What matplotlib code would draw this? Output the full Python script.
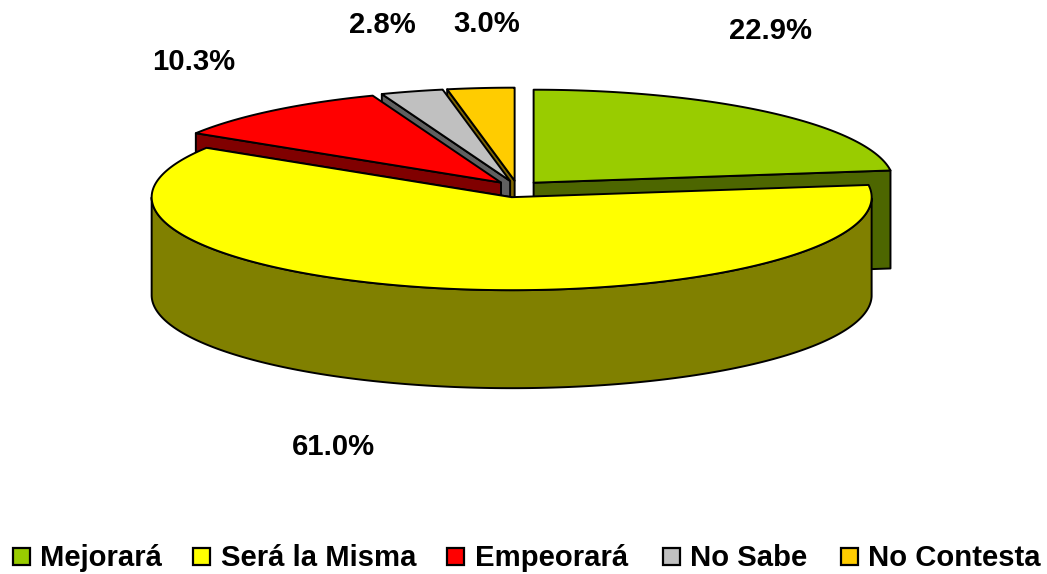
import numpy as np
import matplotlib
matplotlib.use("Agg")
import matplotlib.pyplot as plt
from matplotlib.patches import Polygon

categories = ["Mejorará", "Será la Misma", "Empeorará", "No Sabe", "No Contesta"]
values = [22.9, 61.0, 10.3, 2.8, 3.0]
top_colors = ["#99CC00", "#FFFF00", "#FF0000", "#C0C0C0", "#FFCC00"]
side_colors = ["#4D6600", "#808000", "#800000", "#606060", "#806600"]
label_pos = [(771, 31), (333, 447), (194, 62), (382, 25), (487, 24)]
legend_x = [13, 193, 447, 663, 841]
legend_text_x = [40, 221, 475, 690, 868]

plt.rcParams['font.family'] = ['Liberation Sans', 'DejaVu Sans']
FS = 21.1
fig = plt.figure(figsize=(10.47, 5.74), dpi=100)
ax = fig.add_axes([0, 0, 1, 1])
ax.set_xlim(0, 1047)
ax.set_ylim(574, 0)
ax.axis("off")

CX, CY, A, B, DEPTH, EXPLX, EXPLY = 517, 189, 360, 93, 98, 0.07, 0.09

vals = np.array(values)
edges = np.concatenate([[0], np.cumsum(vals) / vals.sum() * 2 * np.pi])


def pt(th, ox, oy):
    return np.column_stack([ox + A * np.sin(th), oy - B * np.cos(th)])


def add(points, color, z, lw=1.4):
    ax.add_patch(Polygon(points, closed=True, facecolor=color, edgecolor="black",
                         linewidth=lw, joinstyle="round", zorder=z))


draw_order = [0, 4, 3, 2, 1]
for z, i in enumerate(draw_order):
    t0, t1 = edges[i], edges[i + 1]
    mid = (t0 + t1) / 2
    ox = CX + EXPLX * A * np.sin(mid)
    oy = CY - EXPLY * B * np.cos(mid)
    th = np.linspace(t0, t1, 240)
    arc = pt(th, ox, oy)
    v = np.array([[ox, oy]])
    base = z * 10
    t_wall = t0 if np.sin(t0) < -1e-9 else t1
    r = pt(np.array([t_wall]), ox, oy)
    add(np.vstack([v, r, r + [0, DEPTH], v + [0, DEPTH]]), side_colors[i], base)
    vis = (th > np.pi / 2) & (th < 3 * np.pi / 2)
    if vis.any():
        a = arc[vis]
        add(np.vstack([a, (a + [0, DEPTH])[::-1]]), side_colors[i], base + 3)
    add(np.vstack([v, arc]), top_colors[i], base + 4)

for val, (x, y) in zip(values, label_pos):
    ax.text(x, y, f"{val:.1f}%", fontsize=FS, fontweight="bold", ha="center", va="center", zorder=100)

for name, x, tx, c in zip(categories, legend_x, legend_text_x, top_colors):
    ax.add_patch(Polygon([[x, 548], [x + 17, 548], [x + 17, 565], [x, 565]], closed=True,
                         facecolor=c, edgecolor="black", linewidth=1.6, zorder=100))
    ax.text(tx, 558, name, fontsize=FS, fontweight="bold", ha="left", va="center", zorder=100)

fig.savefig("out.png", dpi=100)
